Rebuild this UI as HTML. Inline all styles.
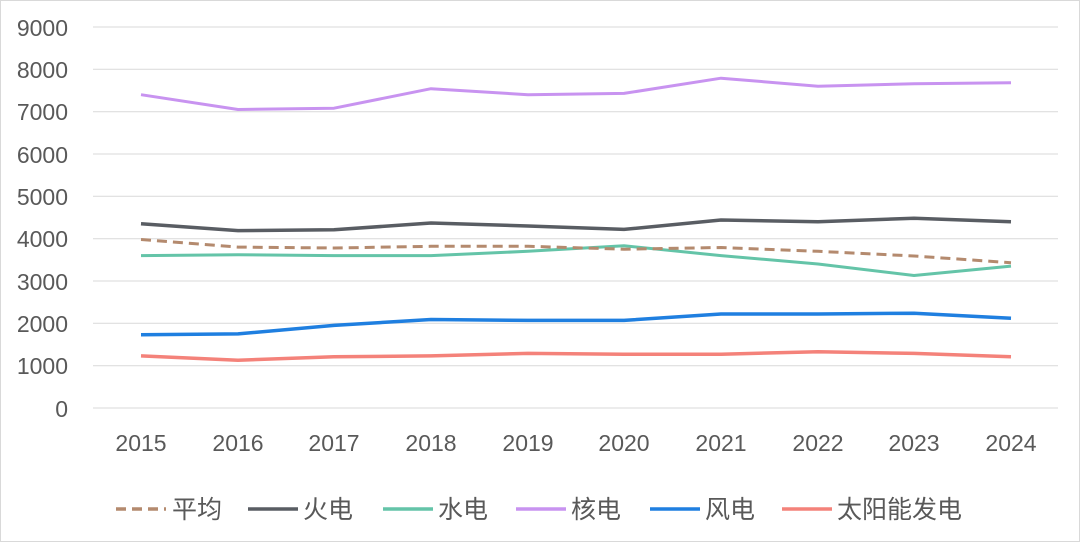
<!DOCTYPE html>
<html><head><meta charset="utf-8"><style>
body{margin:0;background:#fff;}
svg{display:block;font-family:"Liberation Sans","Noto Sans CJK SC",sans-serif;}
</style></head><body>
<svg width="1080" height="542" viewBox="0 0 1080 542">
<rect x="0.5" y="0.5" width="1079" height="541" fill="#fff" stroke="#d9d9d9"/>
<g stroke="#d9d9d9" stroke-width="1">
<line x1="93" x2="1058" y1="27" y2="27"/><line x1="93" x2="1058" y1="69.3" y2="69.3"/>
<line x1="93" x2="1058" y1="111.7" y2="111.7"/><line x1="93" x2="1058" y1="154" y2="154"/>
<line x1="93" x2="1058" y1="196.3" y2="196.3"/><line x1="93" x2="1058" y1="238.7" y2="238.7"/>
<line x1="93" x2="1058" y1="281" y2="281"/><line x1="93" x2="1058" y1="323.3" y2="323.3"/>
<line x1="93" x2="1058" y1="365.7" y2="365.7"/><line x1="93" x2="1058" y1="408" y2="408"/>
</g>
<g font-size="23" fill="#595959" text-anchor="end">
<text x="68" y="36">9000</text><text x="68" y="78">8000</text><text x="68" y="120">7000</text>
<text x="68" y="163">6000</text><text x="68" y="205">5000</text><text x="68" y="247">4000</text>
<text x="68" y="290">3000</text><text x="68" y="332">2000</text><text x="68" y="374">1000</text>
<text x="68" y="417">0</text>
</g>
<g font-size="23" fill="#595959" text-anchor="middle">
<text x="141" y="451">2015</text><text x="238" y="451">2016</text><text x="334" y="451">2017</text>
<text x="431" y="451">2018</text><text x="528" y="451">2019</text><text x="624" y="451">2020</text>
<text x="721" y="451">2021</text><text x="818" y="451">2022</text><text x="914" y="451">2023</text>
<text x="1011" y="451">2024</text>
</g>
<g fill="none" stroke-width="3.5" stroke-linejoin="round">
<polyline stroke="#c893f0" stroke-width="3" points="141,94.7 238,109.5 334,108.2 431,88.7 528,94.7 624,93.4 721,78.2 818,86.2 914,83.7 1011,82.8"/>
<polyline stroke="#595d63" points="141,223.8 238,230.6 334,229.8 431,223 528,226 624,229.4 721,220 818,221.7 914,218.3 1011,221.7"/>
<polyline stroke="#64c4a8" stroke-width="3" points="141,255.6 238,254.7 334,255.6 431,255.6 528,251.3 624,245.8 721,255.6 818,264 914,275.5 1011,266.1"/>
<polyline stroke="#b48a6e" stroke-width="3" stroke-dasharray="10,6" points="141,239.5 238,247.1 334,248 431,246.3 528,246.3 624,249.2 721,247.5 818,251.3 914,256 1011,262.7"/>
<polyline stroke="#1f7fe0" points="141,334.8 238,333.9 334,325.4 431,319.5 528,320.4 624,320.4 721,314 818,314 914,313.2 1011,318.3"/>
<polyline stroke="#f4827a" points="141,355.9 238,360.2 334,356.8 431,355.9 528,353.4 624,354.2 721,354.2 818,351.7 914,353.4 1011,356.8"/>
</g>
<g font-size="25" fill="#595959">
<line x1="116" x2="166" y1="509" y2="509" stroke="#b48a6e" stroke-width="3.5" stroke-dasharray="10,6"/>
<text x="172" y="518">平均</text>
<line x1="248" x2="298" y1="509" y2="509" stroke="#595d63" stroke-width="3.5"/>
<text x="303" y="518">火电</text>
<line x1="383" x2="433" y1="509" y2="509" stroke="#64c4a8" stroke-width="3.5"/>
<text x="438" y="518">水电</text>
<line x1="516" x2="566" y1="509" y2="509" stroke="#c893f0" stroke-width="3.5"/>
<text x="571" y="518">核电</text>
<line x1="650" x2="700" y1="509" y2="509" stroke="#1f7fe0" stroke-width="3.5"/>
<text x="705" y="518">风电</text>
<line x1="782" x2="832" y1="509" y2="509" stroke="#f4827a" stroke-width="3.5"/>
<text x="837" y="518">太阳能发电</text>
</g>
</svg>
</body></html>
